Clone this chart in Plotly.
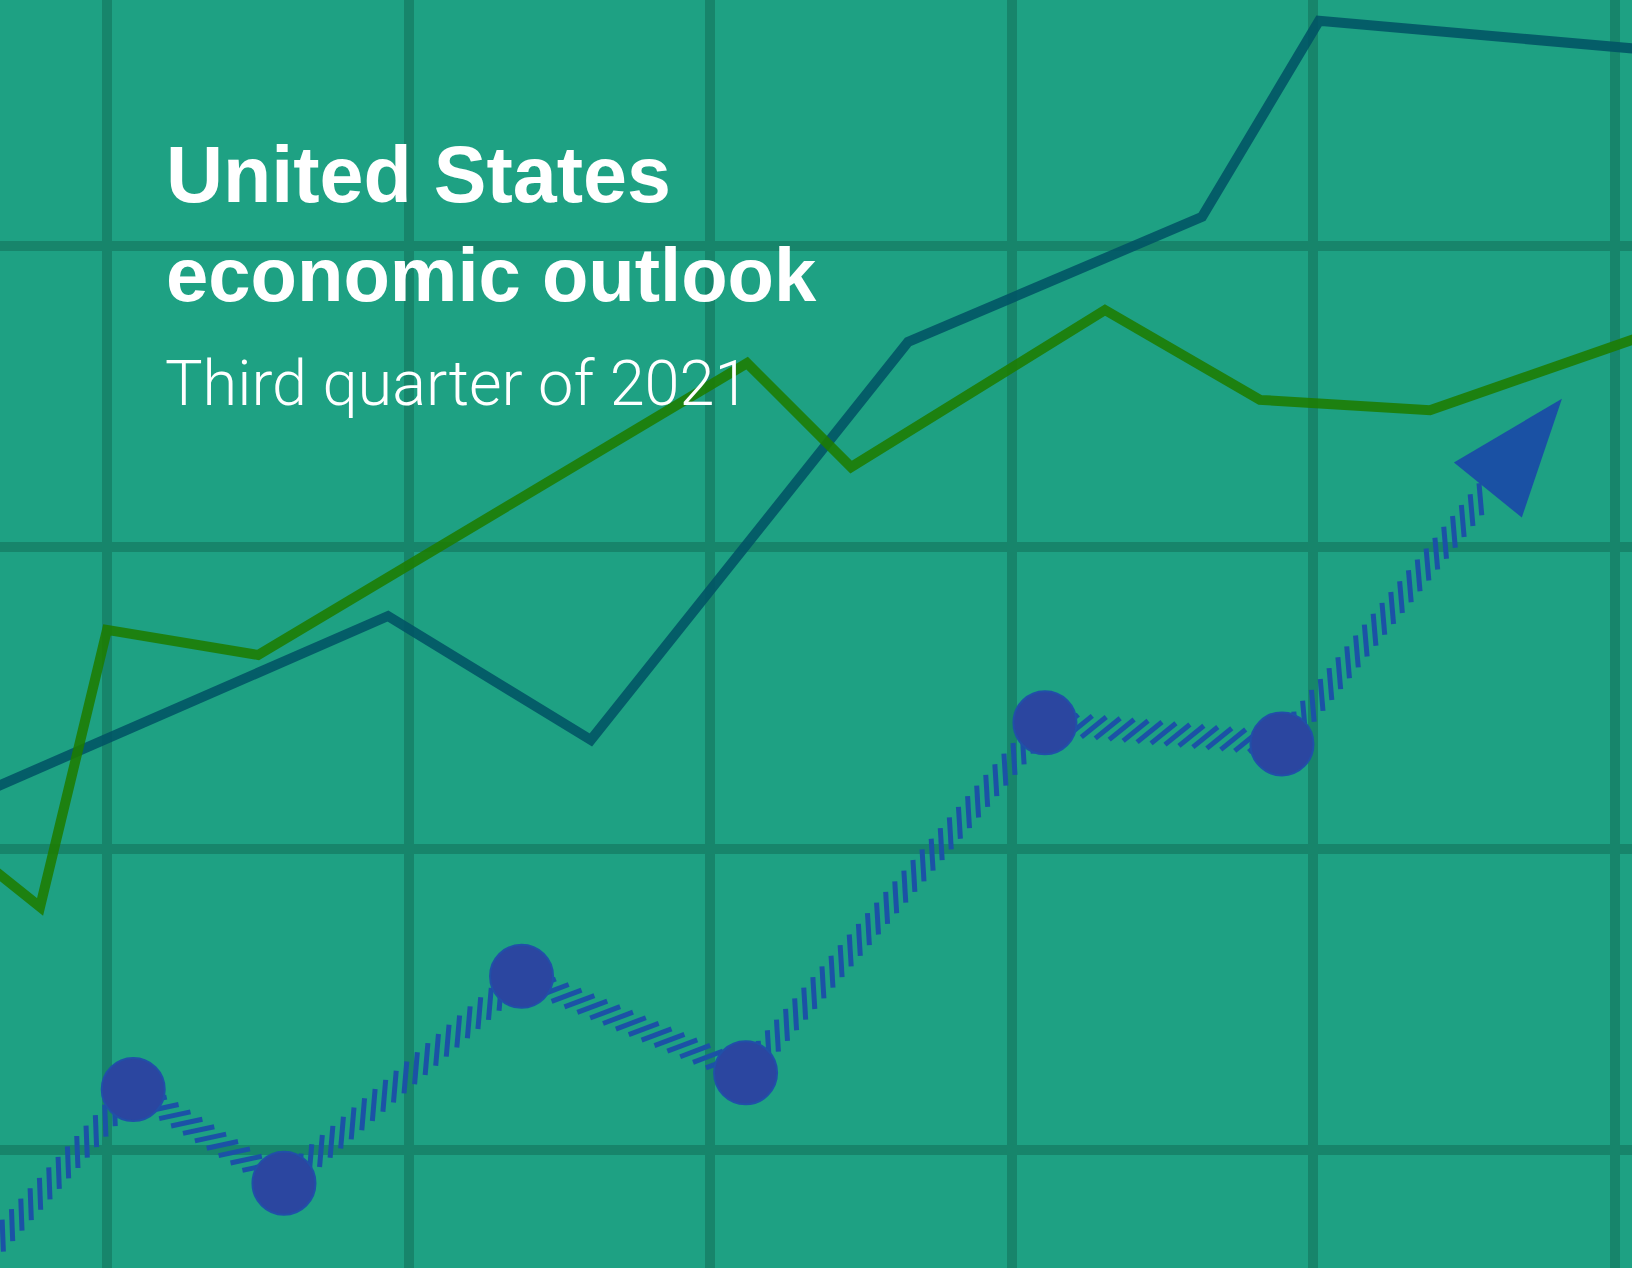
import numpy as np
import plotly.graph_objects as go

# ---------------- data (grid units) ----------------
teal_x = [-0.421, 0.932, 1.605, 2.657, 3.632, 4.020, 5.124]
teal_y = [1.181, 1.771, 1.360, 2.680, 3.095, 3.745, 3.648]

green_x = [-0.421, -0.222, 0.000, 0.501, 2.123, 2.468, 3.310, 3.824, 4.388, 5.124]
green_y = [0.965, 0.806, 1.725, 1.642, 2.610, 2.265, 2.786, 2.488, 2.454, 2.710]

path_x = [-0.454, 0.087, 0.587, 1.375, 2.118, 3.111, 3.897, 4.580]
path_y = [-0.405, 0.201, -0.110, 0.576, 0.256, 1.417, 1.347, 2.189]

dot_x = [0.087, 0.587, 1.375, 2.118, 3.111, 3.897]
dot_y = [0.201, -0.110, 0.576, 0.256, 1.417, 1.347]

title_lines = ["United States", "economic outlook"]
subtitle = "Third quarter of 2021"

# ---------------- layout / style ----------------
W, H = 1632, 1268
PX = 301.5          # pixels per grid unit
X0_PX, Y0_PX = 107, 1150
BG = "rgb(30,161,131)"
GRID = "rgb(23,133,107)"
HATCH_COLOR = "#1b52a6"
HATCH_LEN = 32 / PX
HATCH_GAP = 14 / PX
HATCH_ROT = np.deg2rad(44)
ARROW_LEN = 0.39
ARROW_HALF = 0.145

xr = [-X0_PX / PX, (W - X0_PX) / PX]
yr = [-(H - Y0_PX) / PX, Y0_PX / PX]

# hatch marks along the path
hx, hy = [], []
for i in range(len(path_x) - 1):
    p0 = np.array([path_x[i], path_y[i]])
    p1 = np.array([path_x[i + 1], path_y[i + 1]])
    d = np.linalg.norm(p1 - p0)
    u = (p1 - p0) / d
    c, s = np.cos(HATCH_ROT), np.sin(HATCH_ROT)
    h = np.array([u[0] * c - u[1] * s, u[0] * s + u[1] * c])
    t = HATCH_GAP / 2
    while t < d:
        p = p0 + u * t
        a = p - h * HATCH_LEN / 2
        b = p + h * HATCH_LEN / 2
        hx += [a[0], b[0], None]
        hy += [a[1], b[1], None]
        t += HATCH_GAP

# arrow head
end = np.array([path_x[-1], path_y[-1]])
prev = np.array([path_x[-2], path_y[-2]])
u = (end - prev) / np.linalg.norm(end - prev)
n = np.array([-u[1], u[0]])
tip = end + u * ARROW_LEN
c1 = end + n * ARROW_HALF
c2 = end - n * ARROW_HALF

fig = go.Figure()
fig.add_trace(go.Scatter(x=teal_x, y=teal_y, mode="lines",
                         line=dict(color="rgba(0,82,100,0.86)", width=10),
                         hoverinfo="skip"))
fig.add_trace(go.Scatter(x=green_x, y=green_y, mode="lines",
                         line=dict(color="rgba(30,124,0,0.88)", width=10),
                         hoverinfo="skip"))
fig.add_trace(go.Scatter(x=hx, y=hy, mode="lines",
                         line=dict(color=HATCH_COLOR, width=5),
                         hoverinfo="skip"))
fig.add_trace(go.Scatter(x=[c1[0], tip[0], c2[0], c1[0]],
                         y=[c1[1], tip[1], c2[1], c1[1]],
                         mode="lines", fill="toself", fillcolor="#1a51a4",
                         line=dict(width=0, color="#1a51a4"), hoverinfo="skip"))
fig.add_trace(go.Scatter(x=dot_x, y=dot_y, mode="markers",
                         marker=dict(size=63, color="#2b46a0",
                                     line=dict(color="#2150a8", width=2)),
                         hoverinfo="skip"))

ax = dict(showgrid=True, gridcolor=GRID, gridwidth=10, dtick=1, tick0=0,
          zeroline=True, zerolinecolor=GRID, zerolinewidth=10,
          showticklabels=False, ticks="", showline=False, fixedrange=True)
fig.update_xaxes(range=xr, **ax)
fig.update_yaxes(range=yr, **ax)

fig.add_annotation(text="<b>" + title_lines[0] + "</b>", xref="paper", yref="paper",
                   x=165 / W, y=1 - 220 / H, xanchor="left", yanchor="bottom",
                   showarrow=False, borderpad=0,
                   font=dict(family="Liberation Sans", size=79, color="white"))
fig.add_annotation(text="<b>" + title_lines[1] + "</b>", xref="paper", yref="paper",
                   x=165 / W, y=1 - 318 / H, xanchor="left", yanchor="bottom",
                   showarrow=False, borderpad=0,
                   font=dict(family="Liberation Sans", size=76, color="white"))
fig.add_annotation(text=subtitle, xref="paper", yref="paper",
                   x=164 / W, y=1 - 421 / H, xanchor="left", yanchor="bottom",
                   showarrow=False, borderpad=0,
                   font=dict(family="Roboto", size=63, color="white", weight=300))

fig.update_layout(width=W, height=H, margin=dict(l=0, r=0, t=0, b=0, pad=0),
                  paper_bgcolor=BG, plot_bgcolor=BG, showlegend=False,
                  hovermode=False)

fig.write_html("out.html", config={"displayModeBar": False},
               post_script="document.body.style.margin='0';document.body.style.overflow='hidden';document.body.style.background='" + BG + "';")
